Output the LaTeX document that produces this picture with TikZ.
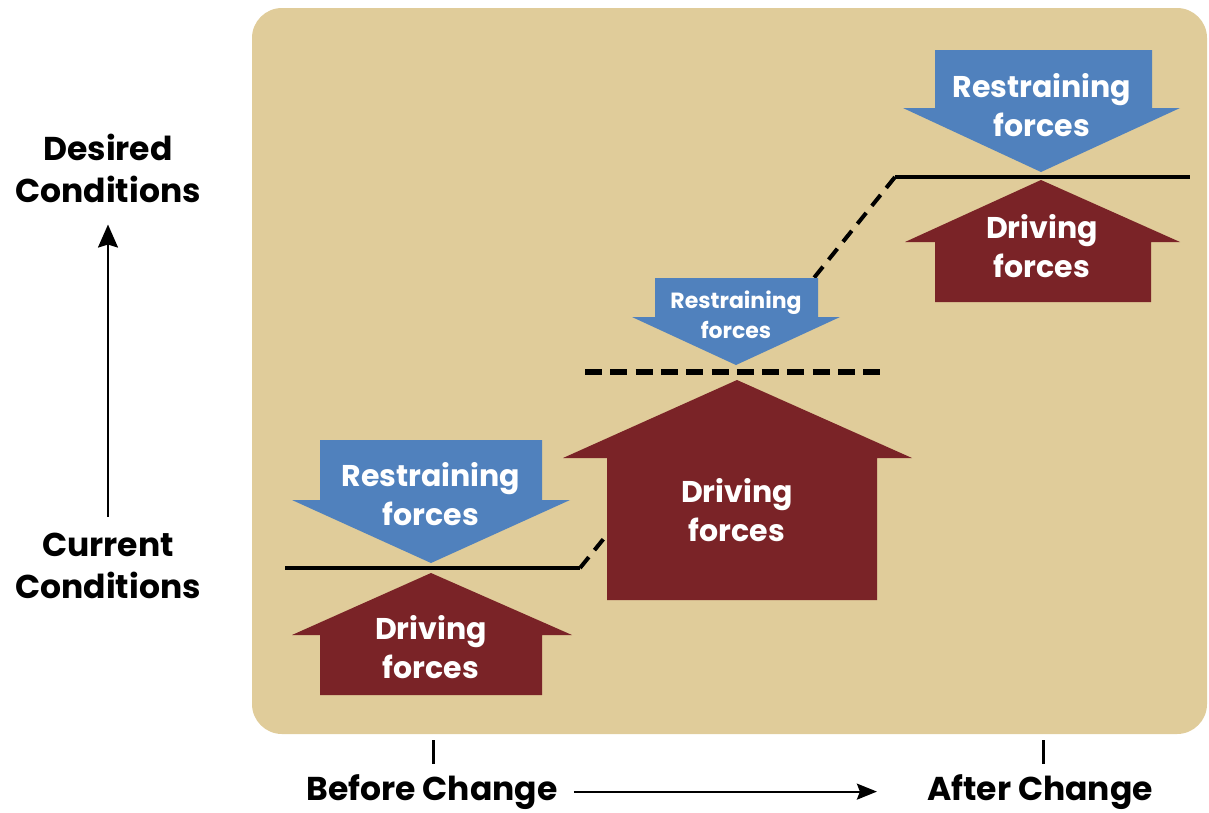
\documentclass[tikz,border=0pt]{standalone}
\usepackage{fontspec}
\setmainfont{Poppins}
\usetikzlibrary{arrows.meta}
\definecolor{panelTan}{RGB}{224,204,154}
\definecolor{restrainBlue}{RGB}{80,129,189}
\definecolor{driveRed}{RGB}{122,35,39}

\begin{document}
\begin{tikzpicture}[x=1pt,y=1pt,yscale=-1,
    restrain/.style={fill=restrainBlue},
    drive/.style={fill=driveRed},
    level/.style={line width=4pt},
    forcetext/.style={text=white,font=\bfseries\fontsize{30}{39}\selectfont,align=center,inner sep=0pt},
    smalltext/.style={text=white,font=\bfseries\fontsize{22}{30}\selectfont,align=center,inner sep=0pt},
    axistext/.style={font=\bfseries\fontsize{33}{42}\selectfont,align=center,inner sep=0pt}]
    \useasboundingbox (0,0) rectangle (1209,812);
    %Shape: Rounded Rect
    \fill [panelTan,rounded corners=30] (252,8) rectangle (1207,734);

    %Straight Lines (levels)
    \draw [level] (285,568) -- (580,568);
    \draw [level,dash pattern=on 14pt off 9pt] (580,568) -- (618,521);
    \draw [level,dash pattern=on 14pt off 9pt] (895,177) -- (805,289);
    \draw [level] (895,177) -- (1190,177);
    \draw [line width=6pt,dash pattern=on 17pt off 8.3pt] (585,372) -- (880,372);

    %Shape: Arrow (before, restraining)
    \fill [restrain] (320,440) -- (542,440) -- (542,500) -- (570,500) -- (431,563) -- (292,500) -- (320,500) -- cycle;
    %Shape: Arrow (before, driving)
    \fill [drive] (431,573) -- (572,635) -- (542,635) -- (542,695) -- (320,695) -- (320,635) -- (292,635) -- cycle;
    %Shape: Arrow (middle, restraining)
    \fill [restrain] (655,278) -- (818,278) -- (818,317) -- (840,317) -- (736,365) -- (632,317) -- (655,317) -- cycle;
    %Shape: Arrow (middle, driving)
    \fill [drive] (737,380) -- (912,458) -- (877,458) -- (877,600) -- (607,600) -- (607,458) -- (563,458) -- cycle;
    %Shape: Arrow (after, restraining)
    \fill [restrain] (935,50) -- (1152,50) -- (1152,108) -- (1180,108) -- (1041,172) -- (903,108) -- (935,108) -- cycle;
    %Shape: Arrow (after, driving)
    \fill [drive] (1041,180) -- (1180,242) -- (1151,242) -- (1151,302) -- (935,302) -- (935,242) -- (905,242) -- cycle;

    % Text Node
    \node [forcetext] (restrainBefore) at (431,494) {Restraining\\forces};
    % Text Node
    \node [forcetext] (driveBefore) at (431,647) {Driving\\forces};
    % Text Node
    \node [smalltext] (restrainMid) at (736,315) {Restraining\\forces};
    % Text Node
    \node [forcetext] (driveMid) at (737,510) {Driving\\forces};
    % Text Node
    \node [forcetext] (restrainAfter) at (1042,105) {Restraining\\forces};
    % Text Node
    \node [forcetext] (driveAfter) at (1042,246) {Driving\\forces};

    % Text Node
    \node [axistext] (desired) at (108,168) {Desired\\Conditions};
    % Text Node
    \node [axistext] (current) at (108,566) {Current\\Conditions};
    % Text Node
    \node [axistext,anchor=base] (before) at (432,800) {Before Change};
    % Text Node
    \node [axistext,anchor=base] (after) at (1040,800) {After Change};

    %Straight Lines (axes)
    \draw [line width=2pt,-{Stealth[length=23pt,width=20pt,inset=3pt]},shorten <=16pt,shorten >=22pt] (current) -- (desired);
    \draw [line width=2pt,-{Stealth[length=20pt,width=16pt,inset=3pt]},shorten <=16pt,shorten >=50pt] (before) -- (after);
    \coordinate (tickBefore) at (433,740);
    \coordinate (tickAfter) at (1043,740);
    \draw [line width=3pt] (tickBefore) -- ++(0,24);
    \draw [line width=3pt] (tickAfter) -- ++(0,24);
\end{tikzpicture}
\end{document}
